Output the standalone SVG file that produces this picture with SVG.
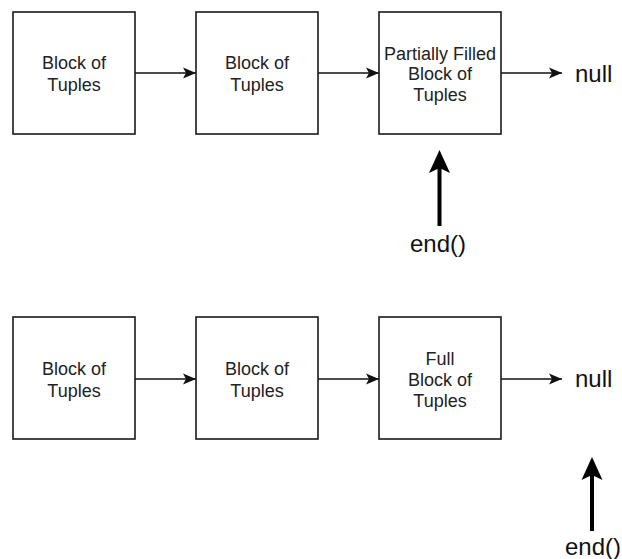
<svg xmlns="http://www.w3.org/2000/svg" width="622" height="559" viewBox="0 0 622 559">
<style>
.box{fill:#fff;stroke:#1a1a1a;stroke-width:1.6}
.lbl{font-family:"Liberation Sans",Arial,sans-serif;font-size:18px;fill:#222;text-anchor:middle}
.big{font-family:"Liberation Sans",Arial,sans-serif;font-size:24px;fill:#111}
.edge{stroke:#111;stroke-width:1.6;fill:none}
.thick{stroke:#000;stroke-width:4;fill:none}
.head{fill:#000}
</style>
<defs>
<marker id="arr" markerUnits="userSpaceOnUse" markerWidth="14" markerHeight="12" viewBox="0 0 14 12" refX="13" refY="6" orient="auto">
<path d="M0,0.5 L13,6 L0,11.5 L3,6 Z" fill="#111"/>
</marker>
</defs>
<rect width="622" height="559" fill="#fff"/>
<g id="connectors">
<line class="edge" x1="135" y1="73" x2="196" y2="73" marker-end="url(#arr)"/>
<line class="edge" x1="318" y1="73" x2="379" y2="73" marker-end="url(#arr)"/>
<line class="edge" x1="501" y1="73" x2="562" y2="73" marker-end="url(#arr)"/>
<line class="edge" x1="135" y1="379" x2="196" y2="379" marker-end="url(#arr)"/>
<line class="edge" x1="318" y1="379" x2="379" y2="379" marker-end="url(#arr)"/>
<line class="edge" x1="501" y1="379" x2="562" y2="379" marker-end="url(#arr)"/>
<line class="thick" x1="439.5" y1="168" x2="439.5" y2="226"/>
<path class="head" d="M439.5,150 L450,173 L439.5,168 L429,173 Z"/>
<line class="thick" x1="592" y1="475" x2="592" y2="531"/>
<path class="head" d="M592,457 L602.5,480 L592,475 L581.5,480 Z"/>
</g>
<g id="t1"><rect class="box" x="13" y="12" width="122" height="122"/><text class="lbl" x="74" y="69">Block of</text><text class="lbl" x="74" y="90.5">Tuples</text></g>
<g id="t2"><rect class="box" x="196" y="12" width="122" height="122"/><text class="lbl" x="257" y="69">Block of</text><text class="lbl" x="257" y="90.5">Tuples</text></g>
<g id="t3"><rect class="box" x="379" y="12" width="122" height="122"/><text class="lbl" x="440" y="59.5">Partially Filled</text><text class="lbl" x="440" y="80">Block of</text><text class="lbl" x="440" y="101">Tuples</text></g>
<g id="tnull"><text class="big" x="575" y="82">null</text></g>
<g id="tend"><text class="big" x="410" y="252">end()</text></g>
<g id="b1"><rect class="box" x="13" y="317" width="122" height="122"/><text class="lbl" x="74" y="375">Block of</text><text class="lbl" x="74" y="396.5">Tuples</text></g>
<g id="b2"><rect class="box" x="196" y="317" width="122" height="122"/><text class="lbl" x="257" y="375">Block of</text><text class="lbl" x="257" y="396.5">Tuples</text></g>
<g id="b3"><rect class="box" x="379" y="317" width="122" height="122"/><text class="lbl" x="440" y="364.5">Full</text><text class="lbl" x="440" y="385.5">Block of</text><text class="lbl" x="440" y="406.5">Tuples</text></g>
<g id="bnull"><text class="big" x="575" y="387">null</text></g>
<g id="bend"><text class="big" x="565" y="555">end()</text></g>
</svg>
